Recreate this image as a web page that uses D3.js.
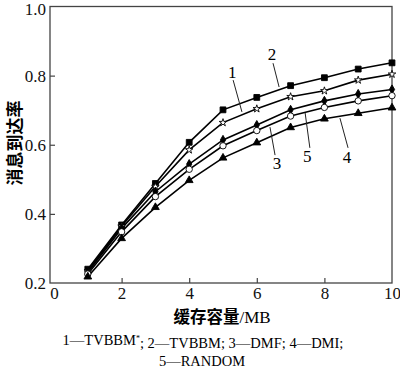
<!DOCTYPE html>
<html><head><meta charset="utf-8">
<script src="https://cdn.jsdelivr.net/npm/d3@7"></script>
<style>html,body{margin:0;padding:0;background:#fff;}svg{display:block;}</style>
</head><body>
<svg id="chart" width="400" height="372"></svg>
<script>
const xValues = [1,2,3,4,5,6,7,8,9,10];
const seriesSquare   = [0.240,0.368,0.488,0.607,0.701,0.737,0.771,0.794,0.819,0.837];
const seriesStar     = [0.235,0.364,0.479,0.585,0.664,0.704,0.739,0.756,0.787,0.804];
const seriesDiamond  = [0.231,0.358,0.464,0.544,0.614,0.657,0.701,0.727,0.747,0.760];
const seriesCircle   = [0.226,0.348,0.450,0.529,0.597,0.641,0.683,0.708,0.727,0.742];
const seriesTriangle = [0.218,0.329,0.419,0.497,0.562,0.606,0.650,0.675,0.691,0.707];
const xTicks = [0,2,4,6,8,10];
const yTicks = [0.2,0.4,0.6,0.8,1.0];
const xTitleCJK = "缓存容量";
const xTitleUnit = "/MB";
const yTitle = "消息到达率";
const legendLine1 = ["1—TVBBM", "*", "; 2—TVBBM; 3—DMF; 4—DMI;"];
const legendLine2 = "5—RANDOM";
// curve labels: text, label position [x,y] in data, leader from/to in data
const curveLabels = [
  {t:"1", at:[5.27,0.810], from:[5.30,0.787], to:[5.56,0.695]},
  {t:"2", at:[6.45,0.862], from:[6.48,0.836], to:[6.66,0.767]},
  {t:"3", at:[6.60,0.547], from:[6.54,0.570], to:[6.39,0.651]},
  {t:"5", at:[7.49,0.567], from:[7.57,0.591], to:[7.43,0.692]},
  {t:"4", at:[8.67,0.565], from:[8.70,0.591], to:[8.46,0.677]}
];

const svg = d3.select("#chart");
const L = 50, R = 392, T = 6.5, B = 283;
const x = d3.scaleLinear().domain([0,10]).range([54,R]);
const y = d3.scaleLinear().domain([0.2,1.0]).range([B,T]);
const serif = "Liberation Serif, Times New Roman, serif";
const cjk = "Noto Sans CJK SC, sans-serif";

// frame
svg.append("rect").attr("x",L).attr("y",T).attr("width",R-L).attr("height",B-T)
  .attr("fill","none").attr("stroke","#444").attr("stroke-width",1.3);

// ticks (inward)
const gx = svg.append("g").attr("transform",`translate(0,${B})`)
  .call(d3.axisBottom(x).tickValues(xTicks).tickSizeInner(-5).tickSizeOuter(0).tickPadding(4).tickFormat(d3.format("d")));
const gy = svg.append("g").attr("transform",`translate(${L},0)`)
  .call(d3.axisLeft(y).tickValues(yTicks).tickSizeInner(-5).tickSizeOuter(0).tickPadding(4).tickFormat(d3.format(".1f")));
[gx,gy].forEach(g=>{
  g.attr("font-family",serif).attr("font-size",17);
  g.select(".domain").remove();
  g.selectAll("line").attr("stroke","#444").attr("stroke-width",1.2);
  g.selectAll("text").attr("fill","#111");
});
gx.selectAll(".tick").filter(d=>d===0||d===10).select("line").remove();
gy.selectAll(".tick").filter(d=>d===0.2||d===1.0).select("line").remove();
gy.selectAll(".tick").filter(d=>d===1.0).select("text").attr("dy","0.45em");

const line = d3.line().x((d,i)=>x(xValues[i])).y(d=>y(d));
const all = [
  {v:seriesSquare, sym:d3.symbolSquare, size:34, fill:"#000"},
  {v:seriesStar, sym:d3.symbolStar, size:18, fill:"#fff"},
  {v:seriesDiamond, sym:d3.symbolDiamond, size:24, fill:"#000"},
  {v:seriesCircle, sym:d3.symbolCircle, size:32, fill:"#fff"},
  {v:seriesTriangle, sym:d3.symbolTriangle, size:26, fill:"#000"}
];
all.forEach(s=>{
  svg.append("path").datum(s.v).attr("d",line).attr("fill","none")
    .attr("stroke","#000").attr("stroke-width",1.6);
});
all.forEach(s=>{
  svg.append("g").selectAll("path").data(s.v).join("path")
    .attr("transform",(d,i)=>`translate(${x(xValues[i])},${y(d)})`)
    .attr("d",d3.symbol().type(s.sym).size(s.size))
    .attr("fill",s.fill).attr("stroke","#000").attr("stroke-width",0.9);
});

// curve labels
curveLabels.forEach(c=>{
  svg.append("line").attr("x1",x(c.from[0])).attr("y1",y(c.from[1]))
    .attr("x2",x(c.to[0])).attr("y2",y(c.to[1])).attr("stroke","#222").attr("stroke-width",1);
  svg.append("text").attr("x",x(c.at[0])).attr("y",y(c.at[1])).attr("dy","0.35em")
    .attr("text-anchor","middle").attr("font-family",serif).attr("font-size",17).text(c.t);
});

// titles
const xt = svg.append("text").attr("x",222).attr("y",317).attr("dy","0.35em").attr("text-anchor","middle");
xt.append("tspan").attr("font-family",cjk).attr("font-weight","bold").attr("font-size",16.5).text(xTitleCJK);
xt.append("tspan").attr("font-family",serif).attr("font-size",17).text(xTitleUnit);
svg.append("text").attr("transform","translate(15,143) rotate(-90)").attr("dy","0.35em")
  .attr("text-anchor","middle").attr("font-family",cjk).attr("font-weight","bold").attr("font-size",17).text(yTitle);

// legend
const lg = svg.append("text").attr("x",203).attr("y",340).attr("dy","0.35em").attr("text-anchor","middle")
  .attr("font-family",serif).attr("font-size",14.5);
lg.append("tspan").text(legendLine1[0]);
lg.append("tspan").attr("dy","-0.45em").attr("font-size",8).text(legendLine1[1]);
lg.append("tspan").attr("dy","0.45em").text(legendLine1[2]);
svg.append("text").attr("x",202).attr("y",361).attr("dy","0.35em").attr("text-anchor","middle")
  .attr("font-family",serif).attr("font-size",14.5).text(legendLine2);
</script>
</body></html>
